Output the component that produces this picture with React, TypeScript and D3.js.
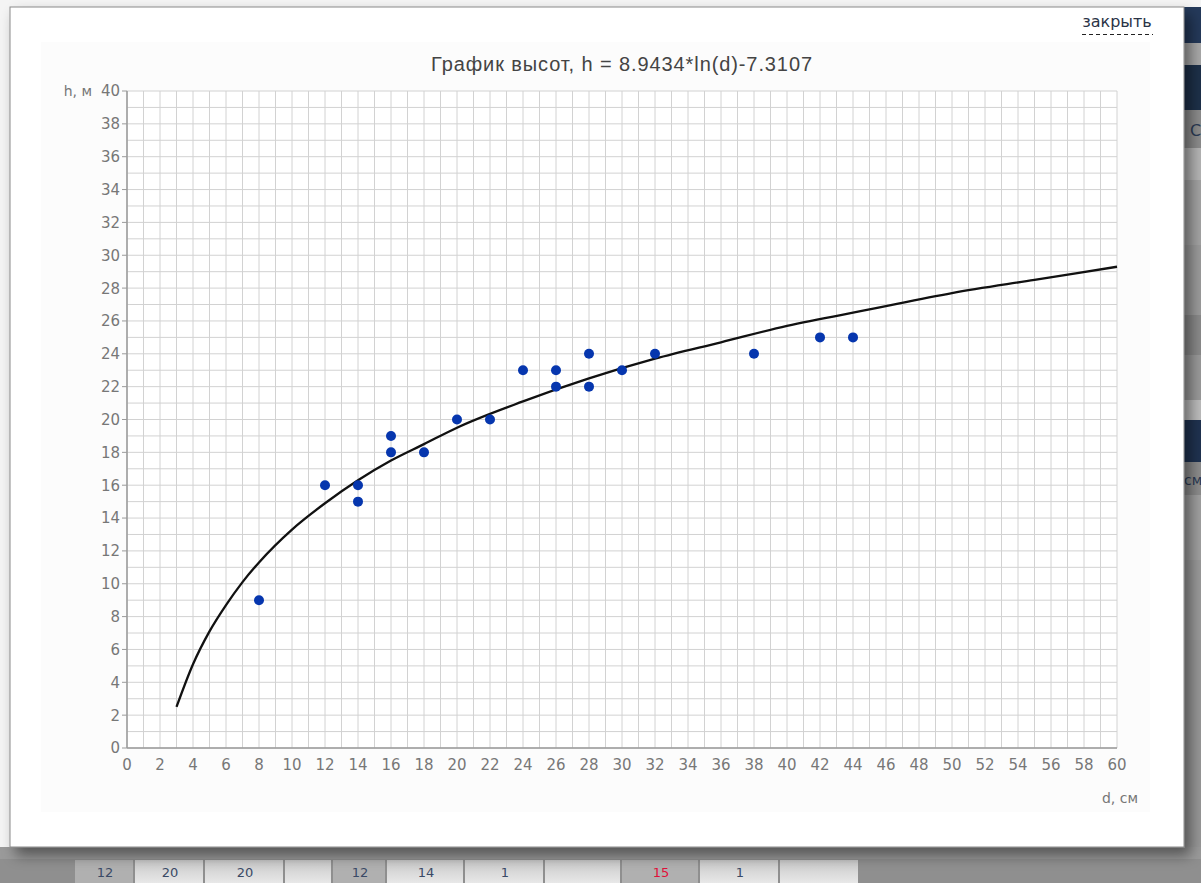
import * as d3 from 'd3';

// measured points: diameter d (cm) and height h (m)
const diameters = [8, 12, 14, 14, 16, 16, 18, 20, 22, 24, 26, 26, 28, 28, 30, 32, 38, 42, 44];
const heights = [9, 16, 16, 15, 19, 18, 18, 20, 20, 23, 23, 22, 24, 22, 23, 24, 24, 25, 25];

// trend line (h = 8.9434*ln(d) - 7.3107)
const trendD = [3, 4, 5, 6, 7, 8, 10, 12, 14, 16, 18, 20, 24, 28, 32, 36, 40, 45, 50, 55, 60];
const trendH = [2.5, 5.1, 7.1, 8.7, 10.1, 11.3, 13.3, 14.9, 16.3, 17.5, 18.5, 19.5, 21.1, 22.5, 23.7, 24.7, 25.7, 26.7, 27.7, 28.5, 29.3];

const xTicks = d3.range(0, 61, 2);
const yTicks = d3.range(0, 41, 2);
const gridX = d3.range(0, 61, 1);
const gridY = d3.range(0, 41, 1);

// bottom table row behind the dialog
const tableCells = ['12', '20', '20', '', '12', '14', '1', '', '15', '1', ''];

const W = 1201;
const H = 883;
const margin = { left: 127, right: 84, top: 91, bottom: 135 };
const font = '"DejaVu Sans", Verdana, sans-serif';
const titleFont = '"Liberation Sans", Arial, Helvetica, sans-serif';

export default function App() {
    const x = d3.scaleLinear().domain([0, 60]).range([margin.left, W - margin.right]);
    const y = d3.scaleLinear().domain([0, 40]).range([H - margin.bottom, margin.top]);

    const line = d3
        .line<number>()
        .x((_d, i) => x(trendD[i]))
        .y((d) => y(d))
        .curve(d3.curveMonotoneX);

    const cellEdges = [75, 135, 205, 285, 333, 387, 465, 545, 622, 700, 780, 860];
    const rightBands: [number, number, string][] = [
        [7, 43, '#24395a'],
        [43, 65, '#a9a9a9'],
        [65, 110, '#1d3049'],
        [110, 148, '#8c8c8c'],
        [148, 180, '#b5b5b5'],
        [180, 245, '#a3a3a3'],
        [245, 315, '#9b9b9b'],
        [315, 355, '#8a8a8a'],
        [355, 400, '#9a9a9a'],
        [400, 420, '#bdbdbd'],
        [420, 462, '#1f3250'],
        [462, 495, '#8c8c8c'],
        [495, 560, '#a0a0a0'],
        [560, 640, '#9a9a9a'],
        [640, 883, '#979797'],
    ];

    return (
        <svg
            width={W}
            height={H}
            viewBox={`0 0 ${W} ${H}`}
            style={{ position: 'absolute', left: 0, top: 0 }}
        >
            <defs>
                <linearGradient id="cellGrad" x1="0" y1="0" x2="0" y2="1">
                    <stop offset="0" stopColor="#c8c8c8" />
                    <stop offset="1" stopColor="#e8e8e8" />
                </linearGradient>
                <filter id="shadow" x="-5%" y="-5%" width="110%" height="115%">
                    <feDropShadow dx="6" dy="8" stdDeviation="7" floodColor="#000" floodOpacity="0.45" />
                </filter>
            </defs>

            {/* page behind the dialog */}
            <rect x={0} y={0} width={W} height={H} fill="#f4f4f4" />
            {rightBands.map(([y0, y1, c], i) => (
                <rect key={i} x={1184} y={y0} width={W - 1184} height={y1 - y0} fill={c} />
            ))}
            <text x={1190} y={136} fontFamily={font} fontSize={16} fill="#2b3b55">С</text>
            <text x={1184} y={485} fontFamily={font} fontSize={14} fill="#2b3b55">см</text>
            <rect x={0} y={847} width={W} height={H - 847} fill="#8f8f8f" />
            <rect x={0} y={847} width={W} height={12} fill="#9a9a9a" />
            {tableCells.map((t, i) => (
                <g key={i}>
                    <rect
                        x={cellEdges[i]}
                        y={860}
                        width={cellEdges[i + 1] - cellEdges[i] - 2}
                        height={H - 860}
                        fill={i % 4 === 0 ? '#b0b0b0' : 'url(#cellGrad)'}
                    />
                    <text
                        x={(cellEdges[i] + cellEdges[i + 1]) / 2}
                        y={877}
                        textAnchor="middle"
                        fontFamily={font}
                        fontSize={13}
                        fill={t === '15' ? '#e0103a' : '#3a4a66'}
                    >
                        {t}
                    </text>
                </g>
            ))}

            {/* dialog */}
            <rect x={10} y={7} width={1174} height={840} fill="#ffffff" stroke="#8a8a8a" strokeWidth={1} filter="url(#shadow)" />
            <rect x={41} y={42} width={1109} height={770} fill="#fcfcfc" />
            <text x={1117} y={27} textAnchor="middle" fontFamily={font} fontSize={16} fill="#2a3346">
                закрыть
            </text>
            <line x1={1082} x2={1153} y1={34.5} y2={34.5} stroke="#222" strokeWidth={1.2} strokeDasharray="4,3" />

            <text x={622} y={71} textAnchor="middle" fontFamily={titleFont} fontSize={20} letterSpacing={0.9} fill="#444">
                График высот, h = 8.9434*ln(d)-7.3107
            </text>

            {/* grid */}
            <rect x={x(0)} y={y(40)} width={x(60) - x(0)} height={y(0) - y(40)} fill="#ffffff" />
            {gridX.map((v) => (
                <line key={'gx' + v} x1={x(v)} x2={x(v)} y1={y(0)} y2={y(40)} stroke="#d2d2d2" strokeWidth={1} />
            ))}
            {gridY.map((v) => (
                <line key={'gy' + v} x1={x(0)} x2={x(60)} y1={y(v)} y2={y(v)} stroke="#d2d2d2" strokeWidth={1} />
            ))}

            {/* axes */}
            <line x1={x(0)} x2={x(0)} y1={y(0)} y2={y(40)} stroke="#9a9a9a" strokeWidth={1.5} />
            <line x1={x(0)} x2={x(60)} y1={y(0)} y2={y(0)} stroke="#9a9a9a" strokeWidth={1.5} />
            {yTicks.map((v) => (
                <g key={'yt' + v}>
                    <line x1={x(0) - 5} x2={x(0)} y1={y(v)} y2={y(v)} stroke="#9a9a9a" strokeWidth={1} />
                    <text x={x(0) - 7} y={y(v)} dy="0.36em" textAnchor="end" fontFamily={font} fontSize={15} fill="#777">
                        {v}
                    </text>
                </g>
            ))}
            {xTicks.map((v) => (
                <text key={'xt' + v} x={x(v)} y={y(0) + 22} textAnchor="middle" fontFamily={font} fontSize={15} fill="#777">
                    {v}
                </text>
            ))}
            <text x={92} y={y(40)} dy="0.36em" textAnchor="end" fontFamily={font} fontSize={14} fill="#777">
                h, м
            </text>
            <text x={1138} y={803} textAnchor="end" fontFamily={font} fontSize={14} fill="#777">
                d, см
            </text>

            {/* trend line */}
            <path d={line(trendH) ?? ''} fill="none" stroke="#111" strokeWidth={2.3} />

            {/* points */}
            {diameters.map((d, i) => (
                <circle key={i} cx={x(d)} cy={y(heights[i])} r={5} fill="#0636ae" />
            ))}
        </svg>
    );
}
